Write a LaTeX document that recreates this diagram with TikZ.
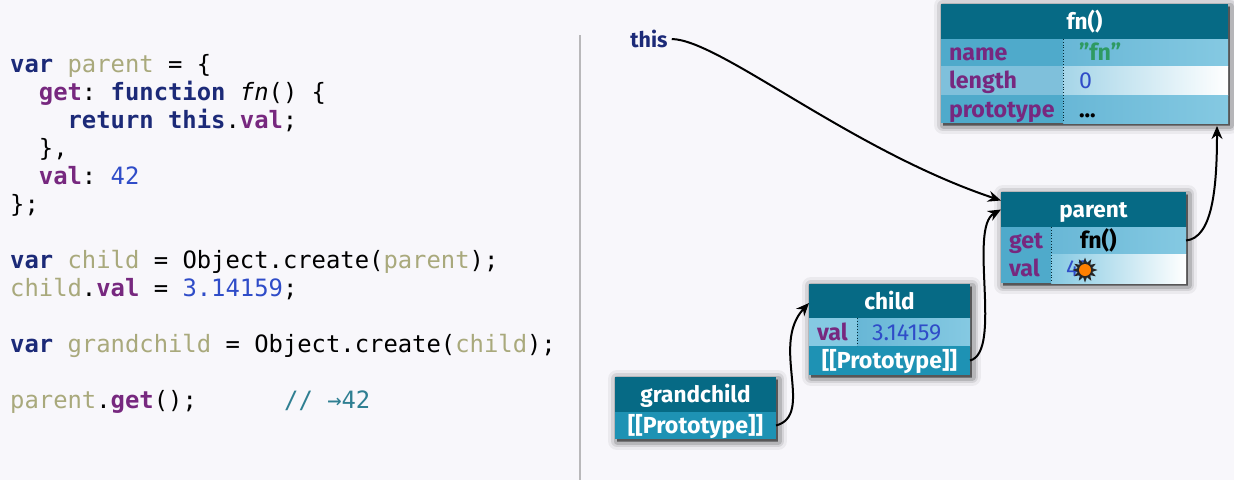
\documentclass[tikz,border=0pt]{standalone}
\usepackage{fontspec}
\setmainfont{Fira Sans}
\setmonofont{DejaVu Sans Mono}
\usetikzlibrary{shadows,shapes.geometric,arrows.meta}

\definecolor{pagebg}{HTML}{F8F7FB}
\definecolor{rulegray}{HTML}{B9B8BA}
\definecolor{kwnavy}{HTML}{1C2A78}
\definecolor{varkhaki}{HTML}{A9A97C}
\definecolor{proppurple}{HTML}{77287F}
\definecolor{numblue}{HTML}{2F4CC8}
\definecolor{cmtteal}{HTML}{2F7F92}
\definecolor{headteal}{HTML}{066A85}
\definecolor{protoblue}{HTML}{1E92B4}
\definecolor{strgreen}{HTML}{2E9A62}
\definecolor{keydeep}{HTML}{4FAACB}
\definecolor{keypale}{HTML}{7FC0DB}
\definecolor{valdeep}{HTML}{68B7D6}
\definecolor{valmid}{HTML}{85C9E2}
\definecolor{valpale}{HTML}{A5D5E8}

\tikzset{
  codeline/.style={anchor=base west,inner sep=0pt,font=\ttfamily\fontsize{23.85}{28}\selectfont},
  boxframe/.style={anchor=north west,inner sep=0pt,outer sep=0pt,fill=headteal,
    general shadow={fill=black,draw=black,line width=18pt,line join=round,opacity=.05,shadow xshift=2pt,shadow yshift=-2pt},
    general shadow={fill=black,draw=black,line width=12pt,line join=round,opacity=.09,shadow xshift=2pt,shadow yshift=-2pt},
    general shadow={fill=black,draw=black,line width=7pt,line join=round,opacity=.14,shadow xshift=2pt,shadow yshift=-2pt},
    general shadow={fill=black,opacity=.35,shadow xshift=2pt,shadow yshift=-3pt}},
  headcell/.style={anchor=north west,inner sep=0pt,outer sep=0pt,fill=headteal,text=white,
    font=\fontsize{22.6}{24}\selectfont\bfseries,text height=18pt,text depth=2pt},
  protocell/.style={anchor=north west,inner sep=0pt,outer sep=0pt,fill=protoblue,text=white,
    font=\fontsize{23.2}{24}\selectfont\bfseries,text height=18pt,text depth=2pt},
  cell/.style={anchor=north west,inner sep=0pt,outer sep=0pt,align=left,
    font=\fontsize{23.2}{24}\selectfont\bfseries,text height=18pt,text depth=2pt},
  keycell/.style={cell,text=proppurple},
  numcell/.style={cell,text=numblue,font=\fontsize{23.2}{24}\selectfont},
  coldiv/.style={dotted,line width=.8pt,black!60!headteal},
  ptr/.style={-{Stealth[length=13pt,width=11pt]},line width=2pt,black}
}

\begin{document}
\begin{tikzpicture}[x=1pt,y=-1pt]
  \fill[pagebg] (0,0) rectangle (1234,480);
  \useasboundingbox (0,0) rectangle (1234,480);

  % source code
  \node[codeline] (line1) at (10,72) {\textcolor{kwnavy}{\bfseries var} \textcolor{varkhaki}{parent} = \{};
  \node[codeline] (line2) at (38.7,100) {\textcolor{proppurple}{\bfseries get}: \textcolor{kwnavy}{\bfseries function} \textit{fn}() \{};
  \node[codeline] (line3) at (67.4,128) {\textcolor{kwnavy}{\bfseries return} \textcolor{kwnavy}{\bfseries this}.\textcolor{proppurple}{\bfseries val};};
  \node[codeline] (line4) at (38.7,156) {\},};
  \node[codeline] (line5) at (38.7,184) {\textcolor{proppurple}{\bfseries val}: \textcolor{numblue}{42}};
  \node[codeline] (line6) at (10,212) {\};};
  \node[codeline] (line7) at (10,268) {\textcolor{kwnavy}{\bfseries var} \textcolor{varkhaki}{child} = Object.create(\textcolor{varkhaki}{parent});};
  \node[codeline] (line8) at (10,296) {\textcolor{varkhaki}{child}.\textcolor{proppurple}{\bfseries val} = \textcolor{numblue}{3.14159};};
  \node[codeline] (line9) at (10,352) {\textcolor{kwnavy}{\bfseries var} \textcolor{varkhaki}{grandchild} = Object.create(\textcolor{varkhaki}{child});};
  \node[codeline] (line10) at (10,408) {\textcolor{varkhaki}{parent}.\textcolor{proppurple}{\bfseries get}();};
  \node[codeline,text=cmtteal] (line10c) at (284,408) {// →42};

  \coordinate (ruletop) at (580,35);
  \coordinate (rulebot) at (580,480);
  \draw[rulegray,line width=2pt] (ruletop) -- (rulebot);

  % fn() box
  \node[boxframe,minimum width=287pt,minimum height=119pt] (fnbox) at (941,4) {};
  \node[headcell,minimum width=287pt,minimum height=35pt] (fnhead) at (941,4) {fn()};
  \node[keycell,text width=122pt,minimum height=27pt,fill=keydeep] (fnname) at (941,39) {\hspace*{8pt}name};
  \node[keycell,text width=122pt,minimum height=29pt,fill=keypale] (fnlength) at (941,66) {\hspace*{8pt}length};
  \node[keycell,text width=122pt,minimum height=28pt,fill=keydeep] (fnproto) at (941,95) {\hspace*{8pt}prototype};
  \node[cell,text width=165pt,minimum height=27pt,text=strgreen,left color=valdeep,right color=valmid] (fnnameval) at (1063,39) {\hspace*{16pt}"fn"};
  \node[numcell,text width=165pt,minimum height=29pt,left color=valpale,right color=white] (fnlengthval) at (1063,66) {\hspace*{16pt}0};
  \node[cell,text width=165pt,minimum height=28pt,left color=valdeep,right color=valmid] (fnprotoval) at (1063,95) {\hspace*{16pt}...};
  \draw[coldiv] (fnnameval.north west) -- (fnprotoval.south west);

  % parent box
  \node[boxframe,minimum width=185pt,minimum height=91pt] (parentbox) at (1001,192) {};
  \node[headcell,minimum width=185pt,minimum height=35pt] (parenthead) at (1001,192) {parent};
  \node[keycell,text width=50pt,minimum height=27pt,fill=keydeep] (parentget) at (1001,227) {\hspace*{8pt}get};
  \node[keycell,text width=50pt,minimum height=29pt,fill=keydeep] (parentval) at (1001,254) {\hspace*{8pt}val};
  \node[cell,text width=135pt,minimum height=27pt,left color=valdeep,right color=valmid] (parentgetval) at (1051,227) {\hspace*{29pt}fn()};
  \node[numcell,text width=135pt,minimum height=29pt,left color=valmid,right color=white] (parentvalval) at (1051,254) {\hspace*{15pt}42};
  \draw[coldiv] (parentgetval.north west) -- (parentvalval.south west);
  \node[star,star points=12,star point ratio=1.7,fill=black!85,minimum size=25pt,inner sep=0pt] (burst) at (1085,270) {};
  \node[circle,fill=orange,minimum size=12pt,inner sep=0pt] (burstcore) at (burst.center) {};

  % child box
  \node[boxframe,minimum width=161pt,minimum height=91pt] (childbox) at (809,284) {};
  \node[headcell,minimum width=161pt,minimum height=34pt] (childhead) at (809,284) {child};
  \node[keycell,text width=48pt,minimum height=28pt,fill=valmid] (childval) at (809,318) {\hspace*{8pt}val};
  \node[numcell,text width=113pt,minimum height=28pt,left color=valdeep,right color=valmid] (childvalval) at (857,318) {\hspace*{15pt}3.14159};
  \node[protocell,minimum width=161pt,minimum height=29pt] (childproto) at (809,346) {[[Prototype]]};
  \draw[coldiv] (childvalval.north west) -- (childvalval.south west);

  % grandchild box
  \node[boxframe,minimum width=161pt,minimum height=62pt] (grandbox) at (615,377) {};
  \node[headcell,minimum width=161pt,minimum height=35pt] (grandhead) at (615,377) {grandchild};
  \node[protocell,minimum width=161pt,minimum height=27pt] (grandproto) at (615,412) {[[Prototype]]};

  \node[font=\fontsize{21.5}{24}\selectfont\bfseries,text=kwnavy,inner sep=0pt] (thisref) at (649,39) {this};

  % pointers
  \draw[ptr] ([xshift=4pt]thisref.east) .. controls (720,40) and (850,150) .. ([yshift=9pt]parenthead.west);
  \draw[ptr] (childproto.east) .. controls (1003,352) and (968,228) .. (parenthead.west);
  \draw[ptr] (grandproto.east) .. controls (815,415) and (770,345) .. ([yshift=-2pt]childhead.west);
  \draw[ptr] (parentget.east -| parentbox.east) .. controls (1212,238) and (1217,190) .. ([xshift=-11pt,yshift=-3pt]fnbox.south east);
\end{tikzpicture}
\end{document}
